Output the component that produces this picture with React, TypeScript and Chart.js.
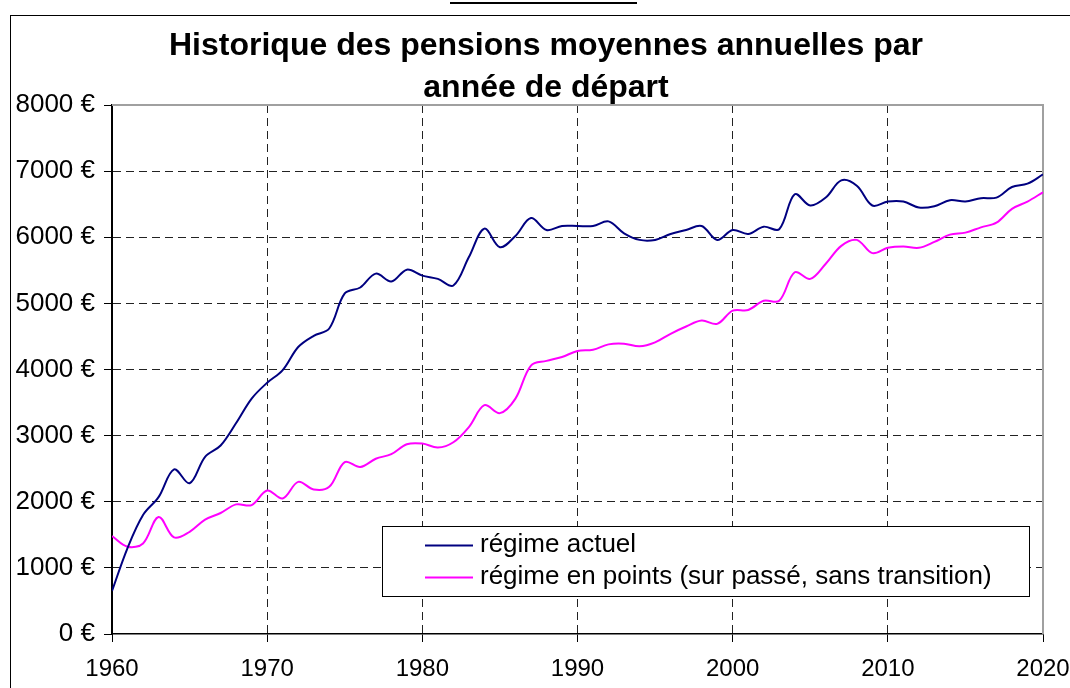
import React, { useEffect, useRef } from "react";
import { Chart, registerables } from "chart.js";

Chart.register(...registerables);

const titleLines = ["Historique des pensions moyennes annuelles par", "année de départ"];

const years = [
  1960, 1961, 1962, 1963, 1964, 1965, 1966, 1967, 1968, 1969,
  1970, 1971, 1972, 1973, 1974, 1975, 1976, 1977, 1978, 1979,
  1980, 1981, 1982, 1983, 1984, 1985, 1986, 1987, 1988, 1989,
  1990, 1991, 1992, 1993, 1994, 1995, 1996, 1997, 1998, 1999,
  2000, 2001, 2002, 2003, 2004, 2005, 2006, 2007, 2008, 2009,
  2010, 2011, 2012, 2013, 2014, 2015, 2016, 2017, 2018, 2019, 2020,
];

const regimeActuel = [
  650, 1300, 1800, 2070, 2490, 2280, 2680, 2850, 3190, 3560,
  3800, 3990, 4340, 4510, 4620, 5150, 5240, 5450, 5330, 5510,
  5420, 5370, 5270, 5700, 6130, 5850, 6020, 6290, 6110, 6170,
  6170, 6170, 6240, 6060, 5960, 5960, 6050, 6110, 6170, 5960,
  6110, 6050, 6160, 6120, 6650, 6480, 6600, 6860, 6780, 6480,
  6540, 6540, 6450, 6470, 6560, 6540, 6590, 6600, 6760, 6810, 6950,
];

const regimePoints = [
  1480, 1320, 1370, 1770, 1460, 1545, 1730, 1830, 1960, 1950,
  2170, 2050, 2300, 2185, 2225, 2600, 2525, 2650, 2720, 2870,
  2880, 2820, 2900, 3130, 3460, 3340, 3560, 4060, 4130, 4190,
  4280, 4300, 4380, 4390, 4350, 4410, 4540, 4650, 4740, 4690,
  4890, 4900, 5040, 5040, 5470, 5370, 5600, 5870, 5960, 5760,
  5840, 5860, 5840, 5930, 6040, 6070, 6150, 6220, 6430, 6540, 6680,
];

const seriesLabels = ["régime actuel", "régime en points (sur passé, sans transition)"];
const seriesColors = ["#000080", "#ff00ff"];

const xMin = 1960;
const xMax = 2020;
const yMin = 0;
const yMax = 8000;

const FONT = '"Liberation Sans", Arial, sans-serif';

const plotBorderPlugin = {
  id: "plotBorder",
  beforeDatasetsDraw(chart: any) {
    const { ctx, chartArea } = chart;
    ctx.save();
    ctx.strokeStyle = "#a0a0a0";
    ctx.lineWidth = 2;
    ctx.beginPath();
    ctx.moveTo(chartArea.left, chartArea.top);
    ctx.lineTo(chartArea.right, chartArea.top);
    ctx.lineTo(chartArea.right, chartArea.bottom);
    ctx.stroke();
    ctx.restore();
  },
};

const boxLegendPlugin = {
  id: "boxLegend",
  afterDatasetsDraw(chart: any) {
    const ctx = chart.ctx;
    ctx.save();
    ctx.fillStyle = "#ffffff";
    ctx.fillRect(382, 526, 647, 71);
    ctx.strokeStyle = "#000000";
    ctx.lineWidth = 1;
    ctx.strokeRect(382.5, 526.5, 647, 70);
    chart.data.datasets.forEach((ds: any, i: number) => {
      const y = 545.5 + i * 32;
      ctx.strokeStyle = ds.borderColor;
      ctx.lineWidth = 2;
      ctx.beginPath();
      ctx.moveTo(425, y);
      ctx.lineTo(473, y);
      ctx.stroke();
      ctx.fillStyle = "#000000";
      ctx.font = `26px ${FONT}`;
      ctx.textBaseline = "alphabetic";
      ctx.textAlign = "left";
      ctx.fillText(ds.label, 480, y + 6);
    });
    ctx.restore();
  },
};

export default function App() {
  const canvasRef = useRef<HTMLCanvasElement | null>(null);

  useEffect(() => {
    const canvas = canvasRef.current;
    if (!canvas) return;
    const toPoints = (vals: number[]) => years.map((yr, i) => ({ x: yr, y: vals[i] }));
    const chart = new Chart(canvas, {
      type: "line",
      data: {
        datasets: [
          {
            label: seriesLabels[0],
            data: toPoints(regimeActuel),
            borderColor: seriesColors[0],
            borderWidth: 2,
            pointRadius: 0,
            tension: 0.35,
            fill: false,
          },
          {
            label: seriesLabels[1],
            data: toPoints(regimePoints),
            borderColor: seriesColors[1],
            borderWidth: 2,
            pointRadius: 0,
            tension: 0.35,
            fill: false,
          },
        ],
      },
      options: {
        responsive: false,
        animation: false,
        events: [],
        layout: { padding: { left: 0, top: 105, right: 27, bottom: 0 } },
        plugins: {
          legend: { display: false },
          title: { display: false },
          tooltip: { enabled: false },
        },
        scales: {
          x: {
            type: "linear",
            min: xMin,
            max: xMax,
            afterFit(scale: any) {
              scale.height = 54;
              scale.paddingLeft = 0;
              scale.paddingRight = 0;
            },
            ticks: {
              stepSize: 10,
              color: "#000",
              padding: 13,
              font: { family: FONT, size: 24 },
              callback: (v: any) => String(v),
            },
            grid: {
              color: (c: any) =>
                c.tick && (c.tick.value === xMin || c.tick.value === xMax) ? "rgba(0,0,0,0)" : "#222",
              lineWidth: 1,
              tickColor: "#000",
              tickLength: 8,
              tickWidth: 1,
            },
            border: { display: true, color: "#000", width: 1.5, dash: [8, 5] },
          },
          y: {
            type: "linear",
            min: yMin,
            max: yMax,
            afterFit(scale: any) {
              scale.width = 112;
              scale.paddingTop = 0;
              scale.paddingBottom = 0;
            },
            ticks: {
              stepSize: 1000,
              color: "#000",
              padding: 9,
              font: { family: FONT, size: 26 },
              callback: (v: any) => `${v} €`,
            },
            grid: {
              color: (c: any) =>
                c.tick && (c.tick.value === yMin || c.tick.value === yMax) ? "rgba(0,0,0,0)" : "#222",
              lineWidth: 1,
              tickColor: "#000",
              tickLength: 8,
              tickWidth: 1,
            },
            border: { display: true, color: "#000", width: 2, dash: [8, 5] },
          },
        },
      },
      plugins: [plotBorderPlugin, boxLegendPlugin],
    });
    return () => chart.destroy();
  }, []);

  return (
    <div
      style={{
        position: "fixed",
        left: 0,
        top: 0,
        width: 1070,
        height: 688,
        overflow: "hidden",
        background: "#fff",
      }}
    >
      <div style={{ position: "absolute", left: 450, top: 2, width: 187, height: 2, background: "#000" }} />
      <div
        style={{
          position: "absolute",
          left: 10,
          top: 15,
          width: 1100,
          height: 720,
          borderLeft: "1px solid #000",
          borderTop: "1px solid #000",
        }}
      />
      <canvas ref={canvasRef} width={1070} height={688} style={{ position: "absolute", left: 0, top: 0 }} />
      <div
        style={{
          position: "absolute",
          left: 0,
          top: 23,
          width: 1092,
          textAlign: "center",
          fontFamily: FONT,
          fontWeight: "bold",
          fontSize: 32,
          lineHeight: "42px",
          color: "#000",
        }}
      >
        {titleLines.map((t, i) => (
          <div key={i}>{t}</div>
        ))}
      </div>
    </div>
  );
}
